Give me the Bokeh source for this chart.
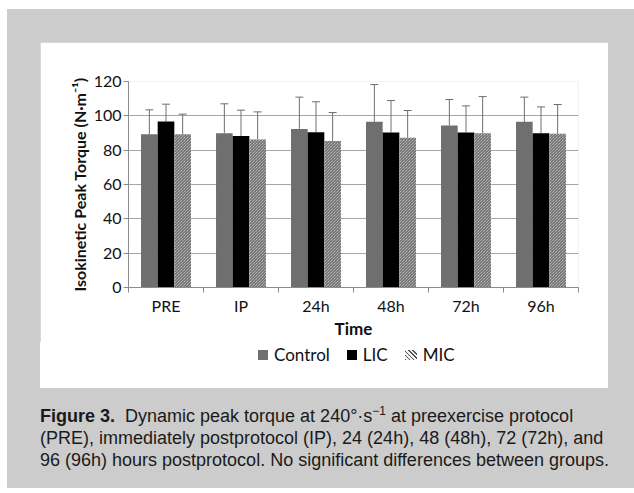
import numpy as np
from bokeh.plotting import figure
from bokeh.models import (ColumnDataSource, Whisker, TeeHead, FixedTicker, Div, Range1d)
from bokeh.transform import dodge
from bokeh.layouts import column
from bokeh.embed import file_html
from bokeh.resources import INLINE

# ---- data ----
times = ["PRE", "IP", "24h", "48h", "72h", "96h"]
groups = ["Control", "LIC", "MIC"]
control_mean = [89.3, 89.9, 92.4, 96.5, 94.4, 96.5]
control_sd = [14.2, 17.1, 18.5, 21.7, 15.1, 14.4]
lic_mean = [96.7, 88.2, 90.5, 90.3, 90.3, 89.9]
lic_sd = [10.1, 15.1, 17.7, 18.6, 15.5, 15.3]
mic_mean = [89.3, 86.2, 85.3, 87.2, 89.9, 89.5]
mic_sd = [11.7, 16.1, 16.6, 15.9, 21.3, 17.1]
y_ticks = [0, 20, 40, 60, 80, 100, 120]

FONT = "Lato"
AXIS_GRAY = "#8c8c8c"
CONTROL_COLOR = "#6f6f6f"
LIC_COLOR = "#000000"
MIC_BG = "#dcdcdc"
MIC_HATCH = "#555555"

idx = list(range(len(times)))
src = ColumnDataSource(dict(
    x=idx,
    c=control_mean, c_up=list(np.array(control_mean) + np.array(control_sd)),
    l=lic_mean, l_up=list(np.array(lic_mean) + np.array(lic_sd)),
    m=mic_mean, m_up=list(np.array(mic_mean) + np.array(mic_sd)),
))

p = figure(width=568, height=300, output_backend="svg", toolbar_location=None,
           x_range=Range1d(-0.5, len(times) - 0.5), y_range=Range1d(0, 120),
           min_border_left=88, min_border_right=30, min_border_top=39, min_border_bottom=55,
           background_fill_color="white", border_fill_color="white",
           outline_line_color=None)
p.margin = (33, 26, 0, 33)

bw = 0.222
styles = [
    dict(col="c", up="c_up", off=-bw, kw=dict(fill_color=CONTROL_COLOR)),
    dict(col="l", up="l_up", off=0.0, kw=dict(fill_color=LIC_COLOR)),
    dict(col="m", up="m_up", off=bw, kw=dict(fill_color=MIC_BG, hatch_pattern="\\",
                                             hatch_color=MIC_HATCH, hatch_scale=3.0,
                                             hatch_weight=1)),
]
for s in styles:
    p.vbar(x=dodge("x", s["off"], range=p.x_range), top=s["col"], width=bw, bottom=0,
           source=src, line_color=None, **s["kw"])
    w = Whisker(source=src, base=dodge("x", s["off"], range=p.x_range), upper=s["up"],
                lower=s["col"], line_color="#6e6e6e", line_width=1,
                upper_head=TeeHead(size=8, line_color="#6e6e6e", line_width=1),
                lower_head=None)
    p.add_layout(w)

# axes
p.xaxis.ticker = FixedTicker(ticks=idx, minor_ticks=[i - 0.5 for i in range(len(times) + 1)])
p.xaxis.major_label_overrides = {i: t for i, t in zip(idx, times)}
p.xaxis.major_tick_out = 0
p.xaxis.major_tick_in = 0
p.xaxis.minor_tick_out = 5
p.xaxis.minor_tick_in = 0
p.xaxis.minor_tick_line_color = AXIS_GRAY
p.xaxis.axis_line_color = AXIS_GRAY
p.xaxis.axis_label = "Time"
p.xaxis.major_label_standoff = 3

p.yaxis.ticker = FixedTicker(ticks=y_ticks)
p.yaxis.major_tick_out = 5
p.yaxis.major_tick_in = 0
p.yaxis.minor_tick_line_color = None
p.yaxis.major_tick_line_color = AXIS_GRAY
p.yaxis.axis_line_color = AXIS_GRAY
p.yaxis.axis_label = "Isokinetic Peak Torque (N·m⁻¹)"
p.yaxis.major_label_standoff = 2

for ax in (p.xaxis, p.yaxis):
    ax.major_label_text_font = FONT
    ax.major_label_text_font_size = "16px"
    ax.major_label_text_color = "#111111"
    ax.axis_label_text_font = FONT
    ax.axis_label_text_font_style = "bold"
    ax.axis_label_text_color = "#111111"
p.xaxis.axis_label_text_font_size = "17px"
p.xaxis.axis_label_standoff = 0
p.yaxis.axis_label_text_font_size = "16px"
p.yaxis.axis_label_standoff = 2

p.xgrid.grid_line_color = None
p.ygrid.ticker = FixedTicker(ticks=y_ticks)
p.ygrid.grid_line_color = "#a6a6a6"

# legend strip (HTML, white background)
swatch_css = [
    f"width:10px;background:{CONTROL_COLOR};",
    f"width:10px;background:{LIC_COLOR};",
    f"width:12px;background:repeating-linear-gradient(45deg,{MIC_HATCH} 0 1px,#f2f2f2 1px 3px);",
]
items_html = "".join(
    f"<span style='display:inline-flex;align-items:center;margin-right:17px;'>"
    f"<span style='display:inline-block;height:10px;margin-right:6px;{css}'></span>"
    f"{g}</span>"
    for g, css in zip(groups, swatch_css))
legend_div = Div(text=f"<div style='display:flex;align-items:center;height:22px;"
                      f"padding-left:218px;'>{items_html}</div>",
                 width=568, height=46, margin=(0, 26, 0, 33),
                 styles={"background-color": "white", "font-family": FONT,
                         "font-size": "17px", "color": "#111111", "white-space": "nowrap"})

caption_html = ("<b>Figure 3.</b>&nbsp; Dynamic peak torque at 240°·s<sup style='font-size:12px;"
                "line-height:0'>−1</sup> at preexercise protocol<br>"
                "(PRE), immediately postprotocol (IP), 24 (24h), 48 (48h), 72 (72h), and<br>"
                "96 (96h) hours postprotocol. No significant differences between groups.")
caption = Div(text=caption_html, width=568, height=83, margin=(17, 26, 0, 33),
              styles={"font-family": "'Liberation Sans', Arial, sans-serif",
                      "font-size": "18px", "line-height": "22px", "color": "#1a1a1a",
                      "white-space": "nowrap"})

layout = column(p, legend_div, caption, margin=(9, 0, 0, 7),
                styles={"background-color": "#cccccc"})

open("out.html", "w").write(file_html(layout, INLINE))
